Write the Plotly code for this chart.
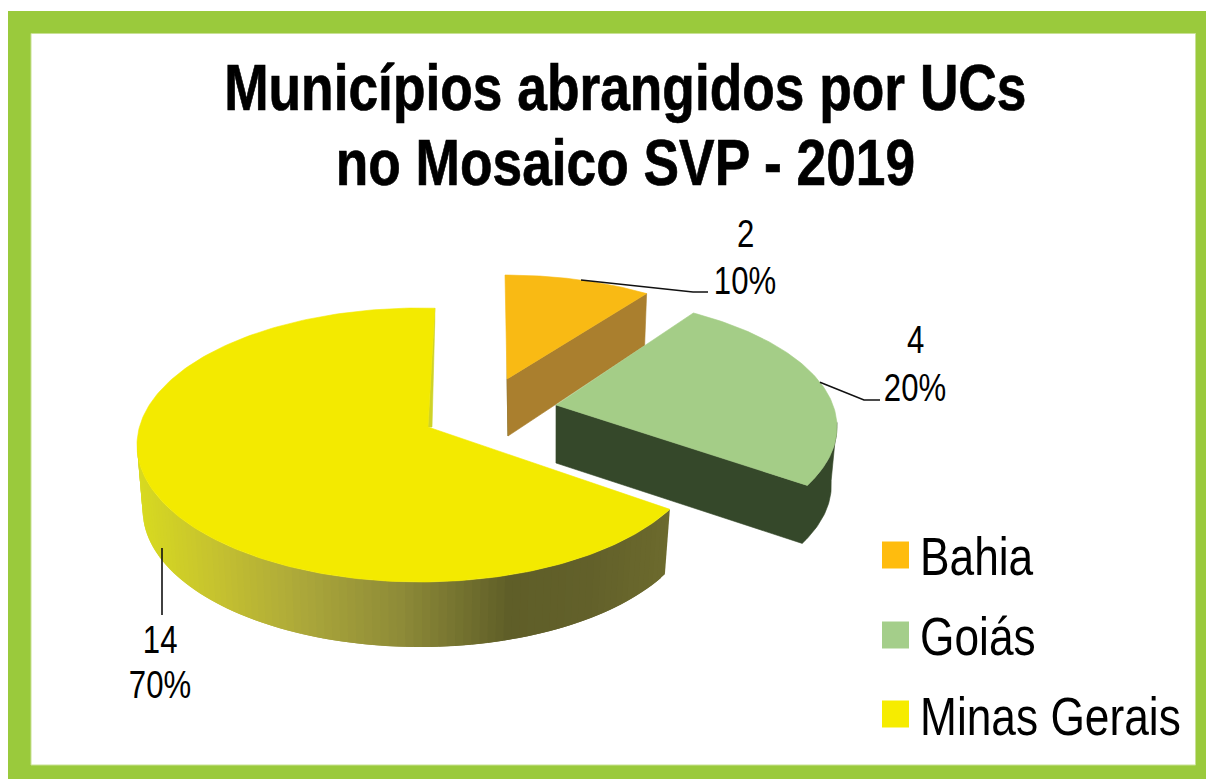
import math
import plotly.graph_objects as go

# ---- data ----
STATES = ["Bahia", "Goiás", "Minas Gerais"]
MUNICIPALITIES = [2, 4, 14]
TITLE_LINES = ["Municípios abrangidos por UCs", "no Mosaico SVP - 2019"]

# ---- styles ----
FONT = "Liberation Sans"
TOP_COLORS = ["#F9BA14", "#A4CD87", "#F3EA00"]
WALL_COLORS = ["#AA7F2E", "#35482A", None]
KEY_COLORS = ["#FFBC0E", "#A4CE8A", "#F6EC00"]
FRAME = "#9ACA3C"
FRAME_EDGE = "#C9E195"
# gradient of the Minas Gerais outer wall: (pixel x, rgb)
WALL_GRADIENT = [(137, (216, 218, 32)), (220, (196, 192, 48)), (300, (172, 168, 58)),
                 (400, (142, 139, 56)), (510, (95, 94, 40)), (590, (98, 96, 42)), (670, (108, 106, 45))]

# ---- view of each exploded slice (pie 3D projection) ----
# ellipse centre, radii, first angle, stretch of the sweep by the view, apex, depth
VIEW = [
    dict(c=(505, 390), r=(260, 115), start=0,   stretch=33 / 36,   apex=(507, 379), depth=55),
    dict(c=(554, 427), r=(283, 131), start=29.5, stretch=87 / 72,  apex=(556, 405), depth=58),
    dict(c=(420, 445), r=(283, 137), start=118, stretch=245 / 252, apex=(428, 427), depth=65),
]
SHRINK = 0.98

total = sum(MUNICIPALITIES)
shares = [v / total for v in MUNICIPALITIES]


def pt(view, t, lowered=False):
    a = math.radians(t)
    x = view["r"][0] * math.sin(a)
    y = -view["r"][1] * math.cos(a)
    if lowered:
        return view["c"][0] + x * SHRINK, view["c"][1] + y + view["depth"]
    return view["c"][0] + x, view["c"][1] + y


def arc(view, t0, t1, n=120, lowered=False):
    pts = [pt(view, t0 + (t1 - t0) * i / n, lowered) for i in range(n + 1)]
    return pts


def low(view, p):
    cx = view["c"][0]
    return cx + (p[0] - cx) * SHRINK, p[1] + view["depth"]


def wall_color(x):
    g = WALL_GRADIENT
    if x <= g[0][0]:
        return "rgb(%d,%d,%d)" % g[0][1]
    for (x0, c0), (x1, c1) in zip(g, g[1:]):
        if x <= x1:
            f = (x - x0) / (x1 - x0)
            return "rgb(%d,%d,%d)" % tuple(round(a + (b - a) * f) for a, b in zip(c0, c1))
    return "rgb(%d,%d,%d)" % g[-1][1]


fig = go.Figure()


def poly(points, color, name=None, width=0.6):
    xs = [p[0] for p in points] + [points[0][0]]
    ys = [p[1] for p in points] + [points[0][1]]
    fig.add_trace(go.Scatter(x=xs, y=ys, mode="lines", fill="toself", fillcolor=color,
                             line=dict(color=color, width=width), hoverinfo="skip",
                             showlegend=False, name=name))


ranges = []
for view, share in zip(VIEW, shares):
    t0 = view["start"]
    ranges.append((t0, t0 + 360 * share * view["stretch"]))

# Bahia: cut face only is visible
vb, (b0, b1) = VIEW[0], ranges[0]
end = pt(vb, b1)
poly([vb["apex"], (vb["apex"][0] + 1, vb["apex"][1] - 100), (vb["apex"][0] + 1, vb["apex"][1] + 57),],
     "#6E6A30")
poly([vb["apex"], end, (end[0] - 2, end[1] + vb["depth"] - 3), (vb["apex"][0] + 1, vb["apex"][1] + vb["depth"] + 2)],
     WALL_COLORS[0])
poly([vb["apex"]] + arc(vb, b0, b1), TOP_COLORS[0], STATES[0])

# Goiás: cut face and the right part of the outer wall
vg, (g0, g1) = VIEW[1], ranges[1]
end = pt(vg, g1)
wall = [vg["apex"], end] + arc(vg, g1, 88, 30) + arc(vg, 88, g1, 30, lowered=True) + [low(vg, vg["apex"])]
poly(wall, WALL_COLORS[1])
poly([vg["apex"]] + arc(vg, g0, g1), TOP_COLORS[1], STATES[1])

# Minas Gerais: outer wall with a horizontal gradient, thin start face, top
vm, (m0, m1) = VIEW[2], ranges[2]
N = 90
wall_end = 272
for i in range(N):
    a = m0 + (wall_end - m0) * i / N
    b = m0 + (wall_end - m0) * (i + 2) / N      # each band overlaps the next
    b = min(b, wall_end)
    p, q = pt(vm, a), pt(vm, m0 + (wall_end - m0) * (i + 1) / N)
    r = pt(vm, b)
    poly([p, r, pt(vm, b, True), pt(vm, a, True)], wall_color((p[0] + q[0]) / 2), width=0)
s = pt(vm, m1)
ax, ay = vm["apex"]
poly([(ax, ay), s, (s[0], s[1] + 12), (ax + 4, ay)], "#CFD327")
poly([vm["apex"]] + arc(vm, m0, m1, 240), TOP_COLORS[2], STATES[2])

# ---- leader lines, from the slice edge to the label ----
LEADERS = [
    (pt(vb, 17), [(693, 292), (708, 292)]),
    (pt(vg, 70), [(864, 400), (880, 400)]),
    (pt(vm, 262, False), [(162, 615)]),
]
for start, rest in LEADERS:
    pts = [start] + rest
    if rest[0][1] == 615:
        pts[0] = (rest[0][0], 548)
    fig.add_trace(go.Scatter(x=[p[0] for p in pts], y=[p[1] for p in pts], mode="lines",
                             line=dict(color="#111111", width=1.6), hoverinfo="skip", showlegend=False))

# ---- legend key ----
KEY_Y = [555, 635, 714]
fig.add_trace(go.Scatter(x=[895.5] * 3, y=KEY_Y, mode="markers",
                         marker=dict(symbol="square", size=27, color=KEY_COLORS, line=dict(width=0)),
                         hoverinfo="skip", showlegend=False))

annotations = []


def label(x, y, text, size, bold=False, anchor="center"):
    annotations.append(dict(x=x, y=y, xref="x", yref="y", text=f"<b>{text}</b>" if bold else text,
                            showarrow=False, xanchor=anchor, yanchor="middle",
                            font=dict(family=FONT, size=size, color="#000000")))


label(625, 87, TITLE_LINES[0], 65, True)
label(625, 162, TITLE_LINES[1], 65, True)
for name, y in zip(STATES, [556, 636, 716]):
    label(918, y, name, 54, anchor="left")
LABEL_POS = [(745, 234, 281), (915, 340, 388), (160, 640, 685)]
for v, sh, (x, y1, y2) in zip(MUNICIPALITIES, shares, LABEL_POS):
    label(x, y1, str(v), 38)
    label(x, y2, f"{round(sh * 100)}%", 38)

fig.update_layout(
    width=1206, height=779, margin=dict(l=0, r=0, t=0, b=0),
    paper_bgcolor="white", plot_bgcolor="rgba(0,0,0,0)",
    xaxis=dict(range=[0, 1206], visible=False, fixedrange=True),
    yaxis=dict(range=[779, 0], visible=False, fixedrange=True),
    showlegend=False, annotations=annotations,
    shapes=[
        dict(type="rect", xref="x", yref="y", x0=8, y0=11, x1=1206, y1=779, layer="below",
             fillcolor=FRAME, line=dict(width=0)),
        dict(type="rect", xref="x", yref="y", x0=31, y0=33.5, x1=1195.5, y1=765, layer="below",
             fillcolor="white", line=dict(width=1, color=FRAME_EDGE)),
    ],
)

# condensed look of the reference's type: narrow each text horizontally about its own centre
NARROW = """
document.body.style.margin='0';document.body.style.overflow='hidden';
document.querySelectorAll('.annotation-text').forEach(function(t){
  var b=t.getBBox(); var s=0.82;
  var left=t.textContent.match(/^(Bahia|Goiás|Minas Gerais)$/);
  var c=left? b.x : b.x+b.width/2;
  var old=t.getAttribute('transform')||'';
  t.setAttribute('transform',old+' translate('+c+',0) scale('+s+',1) translate('+(-c)+',0)');
  if(t.querySelector('b')||/Municípios|Mosaico/.test(t.textContent)){
    t.style.stroke='#000';t.style.strokeWidth='0.7px';
  }
});
"""
fig.write_html("out.html", config=dict(displayModeBar=False), post_script=NARROW)
